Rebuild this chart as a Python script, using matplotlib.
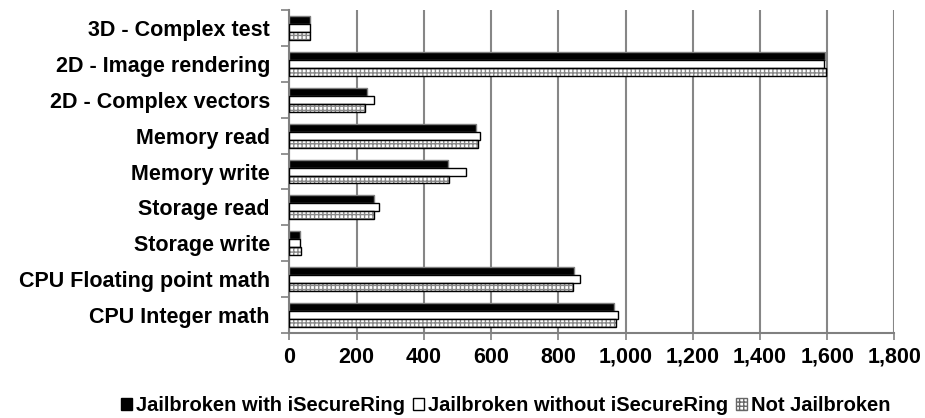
import matplotlib
matplotlib.use("Agg")
import matplotlib.pyplot as plt
import numpy as np
from matplotlib.patches import Patch
from matplotlib.ticker import FuncFormatter, MultipleLocator

plt.rcParams['font.family'] = ['Liberation Sans', 'DejaVu Sans']
plt.rcParams['font.weight'] = 'bold'

categories = ["CPU Integer math", "CPU Floating point math", "Storage write",
              "Storage read", "Memory write", "Memory read",
              "2D - Complex vectors", "2D - Image rendering", "3D - Complex test"]
jb_with = [965, 846, 31, 251, 471, 554, 232, 1592, 60]
jb_without = [977, 864, 31, 266, 526, 567, 253, 1591, 61]
not_jb = [971, 843, 35, 251, 476, 560, 226, 1595, 60]
series_names = ["Jailbroken with iSecureRing", "Jailbroken without iSecureRing", "Not Jailbroken"]

fig = plt.figure(figsize=(9.25, 4.18), dpi=100)
ax = fig.add_axes([0.3128, 0.2033, 0.967 - 0.3128, 0.976 - 0.2033])

y = np.arange(len(categories))
h = 0.222
ax.barh(y + h, jb_with, height=h, color='black', edgecolor='#7f7f7f', linewidth=1.0, zorder=3)
ax.barh(y, jb_without, height=h, color='white', edgecolor='black', linewidth=1.0, zorder=3)
ax.barh(y - h, not_jb, height=h, color='white', edgecolor='#888888', hatch='++++', linewidth=0, zorder=3)
ax.barh(y - h, not_jb, height=h, color='none', edgecolor='black', linewidth=1.0, zorder=4)

ax.set_xlim(0, 1800)
ax.set_ylim(-0.5, len(categories) - 0.5)
ax.xaxis.set_major_locator(MultipleLocator(200))
ax.xaxis.set_major_formatter(FuncFormatter(lambda v, p: f"{int(v):,}"))
ax.grid(axis='x', color='#868686', linewidth=1.5, zorder=0)
ax.set_axisbelow(True)

fs = 15.5
ax.set_yticks(y)
ax.set_yticklabels(categories, fontsize=fs, fontweight='bold')
ax.set_yticks(np.arange(-0.5, len(categories), 1), minor=True)
ax.tick_params(axis='y', which='major', length=0, pad=14)
ax.tick_params(axis='y', which='minor', length=6, color='#808080', width=1.2)
ax.tick_params(axis='x', which='major', length=5, color='#808080', width=1.2, labelsize=fs, pad=5)
for lab in ax.get_xticklabels():
    lab.set_fontweight('bold')

for s in ['top', 'right']:
    ax.spines[s].set_visible(False)
for s in ['left', 'bottom']:
    ax.spines[s].set_color('#808080')
    ax.spines[s].set_linewidth(1.5)

handles = [Patch(facecolor='black', edgecolor='black'),
           Patch(facecolor='white', edgecolor='black'),
           Patch(facecolor='white', edgecolor='#666666', hatch='++++')]
leg = fig.legend(handles, series_names, loc='center', bbox_to_anchor=(0.547, 0.03),
                 ncol=3, frameon=False, handlelength=0.55, handleheight=0.55,
                 handletextpad=0.2, columnspacing=0.4,
                 prop={'size': 14.5, 'weight': 'bold'})

fig.savefig("out.png", dpi=100)
